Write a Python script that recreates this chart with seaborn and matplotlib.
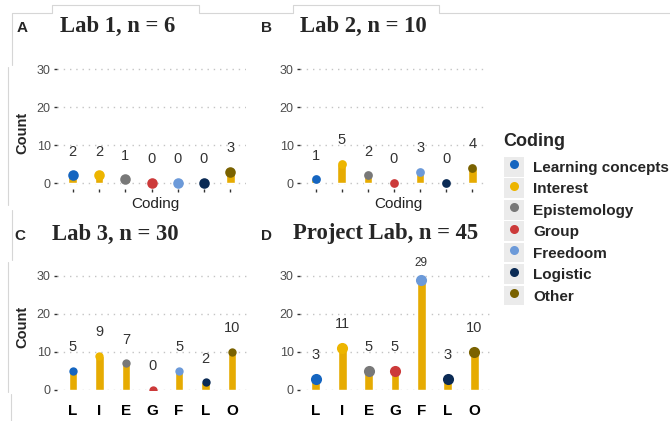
import pandas as pd
import matplotlib
matplotlib.use('Agg')
import matplotlib.pyplot as plt
from matplotlib.lines import Line2D
from matplotlib.patches import Patch
from matplotlib.legend_handler import HandlerTuple
import seaborn as sns

sns.set_theme(style='white')
plt.rcParams['font.family'] = ['Liberation Sans', 'DejaVu Sans']

# Data
codes = ['Learning concepts', 'Interest', 'Epistemology', 'Group', 'Freedoom', 'Logistic', 'Other']
short_labels = ['L', 'I', 'E', 'G', 'F', 'L', 'O']
code_colors = ['#1565C0', '#EDB500', '#787878', '#CC3A3A', '#6C9AD9', '#0B2B55', '#7A6200']
bar_color = '#E6AB02'

lab1 = [2, 2, 1, 0, 0, 0, 3]
lab2 = [1, 5, 2, 0, 3, 0, 4]
lab3 = [5, 9, 7, 0, 5, 2, 10]
project_lab = [3, 11, 5, 5, 29, 3, 10]

W, H = 670, 421


def rect(l, t, r, b):
    return [l / W, 1 - b / H, (r - l) / W, (b - t) / H]


# letter, title, values, axes box (px), y limits, letter x, title x, top row?, dot size
panels = [
    ('A', 'Lab 1, n = 6', lab1, (57, 63.3, 246, 188.7), (-1.5, 31.5), 22, 60, True, 7.6),
    ('B', 'Lab 2, n = 10', lab2, (300, 63.3, 488, 188.7), (-1.5, 31.5), 267, 300, True, 6.3),
    ('C', 'Lab 3, n = 30', lab3, (57, 270, 248, 390), (0, 31.5), 20, 52, False, 6),
    ('D', 'Project Lab, n = 45', project_lab, (300, 270, 490, 390), (0, 31.5), 267, 293, False, 8),
]

palette = dict(zip(codes, code_colors))

fig = plt.figure(figsize=(6.7, 4.21), dpi=100)

# faint outlines left over from the pasted screenshots
frame_lines = [
    [(11.7, 65), (11.7, 13), (52, 13), (52, 5), (199, 5), (199, 13), (293, 13),
     (293, 5), (439, 5), (439, 13), (670, 13)],
    [(8, 67), (8, 205)],
    [(12, 210), (12, 260)],
    [(8, 262), (8, 392)],
    [(11, 394), (11, 421)],
]
for pts in frame_lines:
    xs = [p[0] / W for p in pts]
    ys = [1 - p[1] / H for p in pts]
    fig.add_artist(Line2D(xs, ys, color='#D6D6D6', linewidth=0.8))

for letter, title, values, box, ylim, lx, tx, top_row, dot in panels:
    ax = fig.add_axes(rect(*box))
    ax.patch.set_alpha(0)
    df = pd.DataFrame({'code': codes, 'count': values})
    sns.barplot(data=df, x='code', y='count', order=codes, color=bar_color,
                width=0.33, saturation=1, ax=ax, zorder=2)
    sns.stripplot(data=df, x='code', y='count', order=codes, hue='code',
                  palette=palette, jitter=False, size=dot, linewidth=0,
                  legend=False, ax=ax, zorder=3)
    ax.set_xlim(-0.6, 6.6)
    ax.set_ylim(*ylim)
    ax.set_yticks([0, 10, 20, 30])
    ax.yaxis.grid(True, linestyle=(0, (1, 3.5)), color='#C4C4C4', linewidth=1)
    ax.set_axisbelow(True)
    sns.despine(ax=ax, left=True, bottom=True)
    ax.tick_params(axis='y', length=2.5, width=1, color='#333333',
                   labelsize=9, labelcolor='#4D4D4D', pad=2, left=True)
    ax.set_xlabel('')
    ax.set_ylabel('')
    ax.set_xticks(range(7))
    if top_row:
        ax.set_xticklabels([''] * 7)
        ax.tick_params(axis='x', length=2.5, width=1, color='#333333', pad=2, bottom=True)
    else:
        ax.set_xticklabels(short_labels, fontweight='bold', fontsize=11, color='black')
        ax.tick_params(axis='x', length=0, pad=10)

    for i, v in enumerate(values):
        if v >= 25:
            ax.annotate(str(v), (i, v), xytext=(0, 12), textcoords='offset points',
                        ha='center', va='center', fontsize=8.5, color='#333333',
                        annotation_clip=False)
        else:
            ax.annotate(str(v), (i, v), xytext=(0, 17), textcoords='offset points',
                        ha='center', va='center', fontsize=10.5, color='#333333',
                        annotation_clip=False)

    ty = 26 if top_row else 234
    fig.text(lx / W, 1 - (ty + 2) / H, letter, fontsize=11, fontweight='bold',
             ha='center', va='center')
    fig.text(tx / W, 1 - ty / H, title, fontsize=16.3, fontweight='bold',
             family='Liberation Serif', ha='left', va='center')
    if top_row:
        fig.text((box[0] + box[2]) / 2 / W + 4 / W, 1 - 204 / H, 'Coding',
                 fontsize=11, color='#222222', ha='center', va='center')
    if letter in ('A', 'C'):
        cy = 133 if top_row else 327
        fig.text(22 / W, 1 - cy / H, 'Count', rotation=90, fontsize=10.5,
                 fontweight='bold', ha='center', va='center')

# Legend
fig.text(503 / W, 1 - 141 / H, 'Coding', fontsize=13, fontweight='bold',
         ha='left', va='center')
handles = [(Patch(facecolor='#EBEBEB', edgecolor='none'),
            Line2D([], [], marker='o', linestyle='', markersize=6.5,
                   markerfacecolor=c, markeredgewidth=0)) for c in code_colors]
leg = fig.legend(handles, codes, handler_map={tuple: HandlerTuple(ndivide=1)},
                 loc='upper left', bbox_to_anchor=(504 / W, 1 - 157 / H),
                 frameon=False,
                 prop={'weight': 'bold', 'size': 11},
                 handlelength=1.3, handleheight=1.6, labelspacing=0.12,
                 handletextpad=0.6, borderpad=0, borderaxespad=0)

fig.savefig('out.png', dpi=100)
